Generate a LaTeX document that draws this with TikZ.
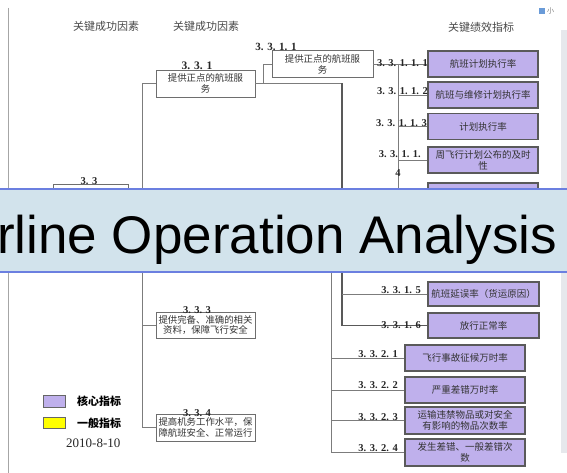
\documentclass[tikz,border=0pt]{standalone}
\usepackage{fontspec}
\setmainfont{Liberation Serif}
\newfontfamily\cjk{Noto Sans CJK SC}
\newfontfamily\arialf{Liberation Sans}
\usetikzlibrary{calc}
\definecolor{kpi}{HTML}{BFB0EC}
\definecolor{kline}{HTML}{5A5A5A}
\definecolor{boxline}{HTML}{6E6E6E}
\definecolor{connc}{HTML}{7C7C7C}
\definecolor{txt}{HTML}{333333}
\definecolor{hdr}{HTML}{4A4A4A}
\definecolor{bannerfill}{HTML}{D2E3EC}
\definecolor{bannerline}{HTML}{6B7FE0}
\definecolor{stripc}{HTML}{E6E8EC}
\definecolor{iconblue}{HTML}{6A9BD8}
\definecolor{legyellow}{HTML}{FFFF00}
\tikzset{
  wbox/.style={draw=boxline, line width=0.8pt, fill=white, inner sep=0pt, align=center,
    font=\cjk\fontsize{9.4}{10.8}\selectfont, text=txt, minimum width=99pt, minimum height=27pt},
  kbox/.style={draw=kline, line width=1.1pt, fill=kpi, inner sep=0pt, align=center,
    font=\cjk\fontsize{9.5}{11.2}\selectfont, text=txt, minimum width=110pt, minimum height=26pt},
  lab/.style={inner sep=0pt, font=\bfseries\fontsize{10.5}{12}\selectfont, text=black!85},
  conn/.style={draw=connc, line width=0.9pt},
  hdrtext/.style={inner sep=0pt, font=\cjk\fontsize{11}{13}\selectfont, text=hdr},
  legtext/.style={inner sep=0pt, anchor=west, font=\cjk\bfseries\fontsize{11}{13}\selectfont, text=black}
}
\begin{document}
\begin{tikzpicture}[x=1pt,y=-1pt]
\useasboundingbox (0,0) rectangle (567,473);
\fill[white] (0,0) rectangle (567,473);

% left rule and right strip
\draw[color=gray!70, line width=1.2pt] (8.5,8) -- (8.5,473);
\fill[stripc] (561,30) rectangle (567,453);
\fill[iconblue] (539,8) rectangle (545,14);
\node[inner sep=0pt, anchor=west, font=\cjk\fontsize{7}{8}\selectfont, text=gray] (icontext) at (547,11) {小};

% headers
\node[hdrtext] (h1) at (106,26) {关键成功因素};
\node[hdrtext] (h2) at (206,26) {关键成功因素};
\node[hdrtext] (h3) at (481,27) {关键绩效指标};

% coordinates of spines
\coordinate (sp) at (142,0);
\coordinate (s31) at (342,0);
\coordinate (s311) at (398,0);
\coordinate (s32top) at (331,250);

% success factor boxes
\node[wbox, minimum width=75pt, minimum height=30pt] (b33) at (90.5,199) {};
\node[wbox] (b331) at (205.5,83.5) {提供正点的航班服\\务};
\node[wbox, minimum width=101pt] (b3311) at (322.5,64) {提供正点的航班服\\务};
\node[wbox, minimum height=26pt] (b333) at (205.5,325) {提供完备、准确的相关\\资料，保障飞行安全};
\node[wbox] (b334) at (205.5,427.5) {提高机务工作水平，保\\障航班安全、正常运行};

% KPI boxes
\node[kbox] (k1) at (483,64) {航班计划执行率};
\node[kbox] (k2) at (483,95) {航班与维修计划执行率};
\node[kbox] (k3) at (483,126.5) {计划执行率};
\node[kbox] (k4) at (483,160) {周飞行计划公布的及时\\性};
\node[kbox] (k5) at (483,196) {};
\node[kbox, minimum width=111pt, minimum height=24pt] (k315) at (483.5,294) {航班延误率（货运原因）};
\node[kbox, minimum width=111pt, minimum height=25pt] (k316) at (483.5,325.5) {放行正常率};
\node[kbox, minimum width=120pt] (k3321) at (465,358) {飞行事故征候万时率};
\node[kbox, minimum width=120pt] (k3322) at (465,390) {严重差错万时率};
\node[kbox, minimum width=120pt, minimum height=27pt] (k3323) at (465,420.5) {运输违禁物品或对安全\\有影响的物品次数率};
\node[kbox, minimum width=120pt, minimum height=27pt] (k3324) at (465,452.5) {发生差错、一般差错次\\数};

% connectors: left spine
\draw[conn] (b331.west) -- (b331.west -| sp) |- (b334.west);
\draw[conn] (b333.west) -- (b333.west -| sp);
\draw[conn] (b33.east) -- (b33.east -| sp);

% 3.3.1 to 3.3.1.1
\draw[conn] (b331.east) -- ++(8,0) |- (b3311.west);
% 3.3.1 to 3.3.1.5/6
\draw[conn] (b331.east) -- (b331.east -| s31);
\draw[conn, draw=black!65, line width=1.1pt] (b331.east -| s31) |- (k316.west);
\draw[conn] (k315.west) -- (k315.west -| s31);
% 3.3.1.1 to KPIs
\draw[conn] (b3311.east) -- (k1.west);
\draw[conn] (b3311.east -| s311) |- (k5.west);
\draw[conn] (k2.west) -- (k2.west -| s311);
\draw[conn] (k3.west) -- (k3.west -| s311);
\draw[conn] (k4.west) -- (k4.west -| s311);
% 3.3.2 spine
\draw[conn] (s32top) |- (k3324.west);
\draw[conn] (k3321.west) -- (k3321.west -| s32top);
\draw[conn] (k3322.west) -- (k3322.west -| s32top);
\draw[conn] (k3323.west) -- (k3323.west -| s32top);

% labels
\node[lab, anchor=south] (l33) at (89,184.5) {3. 3};
\node[lab, anchor=south, font=\bfseries\fontsize{11.5}{13}\selectfont] (l331) at (197,70) {3. 3. 1};
\node[lab, anchor=south, font=\bfseries\fontsize{11}{13}\selectfont] (l3311) at (276,51) {3. 3. 1. 1};
\node[lab, anchor=south] (l333) at (197,314) {3. 3. 3};
\node[lab, anchor=south] (l334) at (197,416.5) {3. 3. 4};
\node[lab, anchor=base east] (lk1) at (428,67) {3. 3. 1. 1. 1};
\node[lab, anchor=base east] (lk2) at (428,94.5) {3. 3. 1. 1. 2};
\node[lab, anchor=base east] (lk3) at (427,126.5) {3. 3. 1. 1. 3};
\node[lab, anchor=base east] (lk4) at (421,158) {3. 3. 1. 1.};
\node[lab, anchor=base] (lk4b) at (398,176) {4};
\node[lab, anchor=base east] (l315) at (421,293.5) {3. 3. 1. 5};
\node[lab, anchor=base east] (l316) at (421,328.5) {3. 3. 1. 6};
\node[lab, anchor=base east] (l3321) at (398,357.5) {3. 3. 2. 1};
\node[lab, anchor=base east] (l3322) at (398,388.5) {3. 3. 2. 2};
\node[lab, anchor=base east] (l3323) at (398,420.5) {3. 3. 2. 3};
\node[lab, anchor=base east] (l3324) at (398,451.5) {3. 3. 2. 4};

% legend
\draw[draw=gray!80!black, line width=0.8pt, fill=kpi] (43,395) rectangle (65,407);
\draw[draw=gray!80!black, line width=0.8pt, fill=legyellow] (43,417) rectangle (65,428);
\node[legtext] (lg1) at (77,401.5) {核心指标};
\node[legtext] (lg2) at (77,423.5) {一般指标};
\node[inner sep=0pt, anchor=west, font=\fontsize{13}{15}\selectfont, text=black!85] (date) at (66,443) {2010-8-10};

% banner
\draw[fill=bannerfill, draw=bannerline, line width=1.3pt] (-2,189) rectangle (569,272);
\node[anchor=base west, inner sep=0pt, font=\arialf\fontsize{53}{60}\selectfont, text=black] (title) at (-3,253) {rline Operation Analysis};
\end{tikzpicture}
\end{document}
